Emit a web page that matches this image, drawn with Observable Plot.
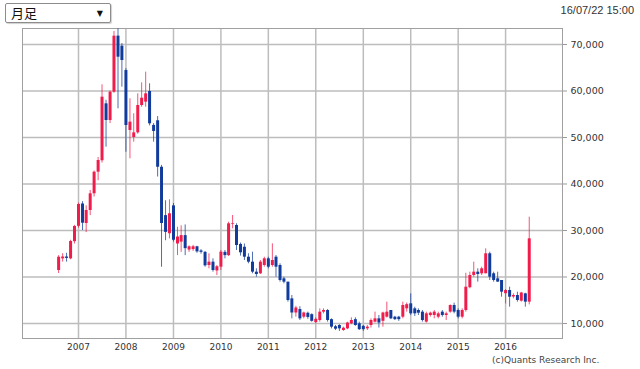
<!DOCTYPE html>
<html><head><meta charset="utf-8">
<script src="https://cdn.jsdelivr.net/npm/d3@7"></script>
<script src="https://cdn.jsdelivr.net/npm/@observablehq/plot@0.6"></script>
<style>
body{margin:0;background:#fff;}
#wrap{position:relative;width:640px;height:369px;overflow:hidden;background:#fff;}
#chart{position:absolute;left:0;top:0;}
#sel{position:absolute;left:5px;top:3px;width:104px;height:18px;border:1px solid #8c8c8c;border-radius:2px;background:#fff;box-shadow:1px 1px 1px #d0d0d0;font-family:"Noto Sans CJK JP",sans-serif;font-size:13px;color:#111;}
#sel .t{position:absolute;left:5px;top:-1px;line-height:20px;}
#sel .a{position:absolute;right:7px;top:0;line-height:19px;font-family:"DejaVu Sans";font-size:8px;}
#stamp{position:absolute;right:6px;top:4px;font-family:"Liberation Sans",Arial,sans-serif;font-size:11px;color:#333;}
#cap{position:absolute;left:492px;top:355px;font-family:"DejaVu Sans",sans-serif;font-size:9px;color:#444;white-space:nowrap;}
</style>
</head><body>
<div id="wrap">
  <div id="chart"></div>
  <div id="sel"><span class="t">月足</span><span class="a">▼</span></div>
  <div id="stamp">16/07/22 15:00</div>
  <div id="cap">(c)Quants Research Inc.</div>
</div>
<script>
const months = [
"2006-08","2006-09","2006-10","2006-11","2006-12",
"2007-01","2007-02","2007-03","2007-04","2007-05","2007-06","2007-07","2007-08","2007-09","2007-10","2007-11","2007-12",
"2008-01","2008-02","2008-03","2008-04","2008-05","2008-06","2008-07","2008-08","2008-09","2008-10","2008-11","2008-12",
"2009-01","2009-02","2009-03","2009-04","2009-05","2009-06","2009-07","2009-08","2009-09","2009-10","2009-11","2009-12",
"2010-01","2010-02","2010-03","2010-04","2010-05","2010-06","2010-07","2010-08","2010-09","2010-10","2010-11","2010-12",
"2011-01","2011-02","2011-03","2011-04","2011-05","2011-06","2011-07","2011-08","2011-09","2011-10","2011-11","2011-12",
"2012-01","2012-02","2012-03","2012-04","2012-05","2012-06","2012-07","2012-08","2012-09","2012-10","2012-11","2012-12",
"2013-01","2013-02","2013-03","2013-04","2013-05","2013-06","2013-07","2013-08","2013-09","2013-10","2013-11","2013-12",
"2014-01","2014-02","2014-03","2014-04","2014-05","2014-06","2014-07","2014-08","2014-09","2014-10","2014-11","2014-12",
"2015-01","2015-02","2015-03","2015-04","2015-05","2015-06","2015-07","2015-08","2015-09","2015-10","2015-11","2015-12",
"2016-01","2016-02","2016-03","2016-04","2016-05","2016-06","2016-07"
];
const opens = [
21400,23900,24300,23900,27600,
30900,35700,31500,34300,37900,42540,45000,57240,53650,59750,71800,69640,
64400,51500,50000,51000,56880,57600,59890,52600,53600,43600,33200,29300,
35300,27100,27500,28900,25800,25900,26500,25600,25300,22470,23190,21300,
22110,25300,24600,31300,31080,27000,26400,24260,23190,21040,20690,22470,
23910,22470,24260,22470,19610,18890,15300,12260,13000,11360,12200,11900,
10200,10650,12440,12800,10830,9300,9570,8490,8850,9930,10830,9930,
9390,8850,9570,10290,11000,10470,11360,12800,11360,11360,11360,13150,
14230,13150,12800,12440,10290,11720,11720,11360,12440,11720,12440,13870,
12800,11360,12800,17700,20320,21040,20690,20690,24990,20690,19610,19250,
16400,17100,15700,16020,14800,16380,14590
];
const highs = [
24600,25000,25100,27900,31100,
35900,36200,35300,38600,42800,45700,61330,58000,60000,72800,73380,70200,
64800,58320,55100,59390,61760,64050,61550,53000,54500,44000,36400,36600,
35800,30700,31000,31200,26700,26800,26600,25900,25500,24990,23910,22470,
25700,25700,31790,33230,31440,27300,27100,24990,25340,21760,23550,24260,
24260,27130,24620,22840,19960,18890,16020,13690,13600,12440,12440,12080,
11200,13150,13150,13000,11000,9570,9750,9210,10290,11220,11220,10290,
9570,9570,11000,12440,11720,12440,14590,12800,11540,11540,14590,14410,
16380,13500,13150,12800,12440,12440,12800,12440,12800,12440,14000,14370,
13150,13150,20800,21040,23190,21760,22100,26060,25340,21040,21040,19250,
17300,17810,16380,16740,16700,16500,32860
];
const lows = [
20750,23200,23200,23700,27100,
30500,30000,29550,33200,37200,40700,44500,47920,53000,59500,56170,60820,
46840,45420,48990,50700,56500,56500,52500,49000,41500,22100,27800,28200,
27500,24600,25300,24600,25300,25500,25100,24900,22100,21760,21040,20300,
21400,23900,24400,30360,25700,24500,23550,22840,20690,19960,20540,22110,
21760,22110,19960,18890,18530,14590,11000,11360,10650,11000,10900,10290,
9930,10290,12080,10290,8850,8490,8300,8310,8670,9750,9390,8490,
8310,8490,9030,10110,9030,9210,11180,10830,10650,10470,11000,12440,
11700,11500,11720,10290,10100,11360,11000,11000,11360,10650,12200,12080,
11000,11000,12440,17460,19960,18900,20320,20690,19250,18890,18890,15660,
14200,13510,15300,14590,14590,13510,14000
];
const closes = [
24260,24300,24000,27640,30860,
35590,31570,34300,37890,42540,45050,58670,53650,59750,71790,67270,66560,
52580,53300,51000,56880,58450,59390,52940,51300,43600,31500,29600,33600,
27900,28600,28900,26100,26500,26500,25400,25300,22400,23190,21400,22200,
25340,24600,31440,31440,26770,25200,24260,23190,21040,20540,23190,23910,
22110,23550,22110,19250,18890,14950,12260,13330,11000,12260,11300,10470,
10900,12440,12800,10650,9210,8780,8850,8990,10100,10650,9570,8670,
8670,9210,10650,11000,10110,12260,12440,11000,10830,10830,13870,14050,
12080,12080,12220,10650,12080,12220,12440,12080,11720,12080,13870,12440,
11360,12800,17810,20320,21040,20540,21760,24990,19960,19250,18900,16740,
17100,15660,16020,14950,16560,14590,28210
];
const yTicks = [10000,20000,30000,40000,50000,60000,70000];
const yearLabels = ["2007","2008","2009","2010","2011","2012","2013","2014","2015","2016"];

const RED = "#f01c4c", BLUE = "#123c9c";
const parseM = d3.utcParse("%Y-%m");
const data = months.map((m, i) => ({date: parseM(m), open: opens[i], high: highs[i], low: lows[i], close: closes[i]}));
const up = data.filter(d => d.close >= d.open);
const down = data.filter(d => d.close < d.open);
const yearTicks = yearLabels.map(y => d3.utcParse("%Y")(y));

const chart = Plot.plot({
  width: 640, height: 369,
  marginTop: 28, marginBottom: 31, marginLeft: 22, marginRight: 78,
  x: {type: "utc", domain: [new Date(Date.UTC(2005, 9, 27)), new Date(Date.UTC(2017, 2, 14))], label: null},
  y: {domain: [6774, 73441], label: null},
  style: {fontFamily: "DejaVu Sans", fontSize: "9px", color: "#333", background: "#fff"},
  marks: [
    Plot.ruleY(yTicks, {stroke: "#bdbdbd", strokeWidth: 1.5}),
    Plot.ruleX(yearTicks, {stroke: "#bdbdbd", strokeWidth: 1.5}),
    Plot.frame({stroke: "#a0a0a0"}),
    Plot.ruleX(up, {x: "date", y1: "low", y2: "high", stroke: RED, strokeWidth: 1, strokeOpacity: 0.75}),
    Plot.ruleX(down, {x: "date", y1: "low", y2: "high", stroke: BLUE, strokeWidth: 1, strokeOpacity: 0.75}),
    Plot.ruleX(up, {x: "date", y1: "open", y2: "close", stroke: RED, strokeWidth: 3}),
    Plot.ruleX(down, {x: "date", y1: "open", y2: "close", stroke: BLUE, strokeWidth: 3}),
    Plot.axisY(yTicks, {anchor: "right", tickFormat: d3.format(","), tickSize: 4, tickPadding: 4, fontSize: 9.5, stroke: "#999"}),
    Plot.axisX(yearTicks, {anchor: "bottom", tickFormat: d3.utcFormat("%Y"), tickSize: 0, tickPadding: 5, fontSize: 9})
  ]
});
document.getElementById("chart").appendChild(chart);
</script>
</body></html>
